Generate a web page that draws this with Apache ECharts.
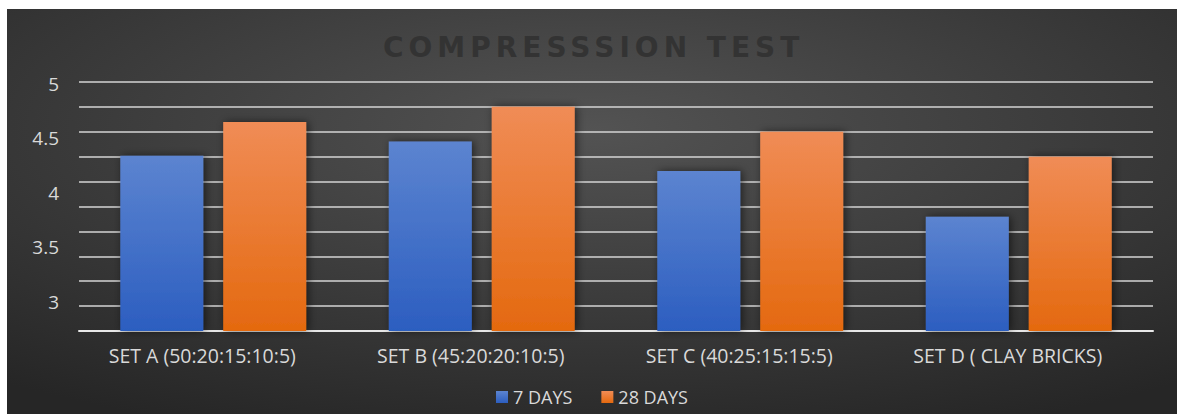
<!DOCTYPE html>
<html>
<head>
<meta charset="utf-8">
<script src="https://cdn.jsdelivr.net/npm/echarts@6/dist/echarts.min.js"></script>
<style>
  html, body { margin: 0; padding: 0; background: #fff; }
  #chart { position: absolute; left: 7px; top: 9px; width: 1170px; height: 405px; }
  /* wide tracking on the title, like the original */
  #chart text[fill="#333333"], #chart text[fill="#333"] { letter-spacing: 5px; }
</style>
</head>
<body>
<div id="chart"></div>
<script>
const categories = ['SET A (50:20:15:10:5)', 'SET B (45:20:20:10:5)', 'SET C (40:25:15:15:5)', 'SET D ( CLAY BRICKS)']
const days7 = [4.34, 4.47, 4.20, 3.78]
const days28 = [4.65, 4.79, 4.56, 4.33]
const yTicks = [3, 3.5, 4, 4.5, 5]

const font = 'Open Sans, Noto Sans, sans-serif'
const grad = (top, bottom) => new echarts.graphic.LinearGradient(0, 0, 0, 1, [
  { offset: 0, color: top }, { offset: 1, color: bottom }
])
const barShadow = { shadowColor: 'rgba(0,0,0,0.55)', shadowBlur: 8, shadowOffsetX: 2 }

const chart = echarts.init(document.getElementById('chart'), null, { renderer: 'svg' })
chart.setOption({
  backgroundColor: {
    type: 'radial', x: 0.5, y: 0.3, r: 0.8,
    colorStops: [{ offset: 0, color: '#535353' }, { offset: 1, color: '#262626' }]
  },
  textStyle: { fontFamily: font },
  title: {
    text: 'COMPRESSSION TEST', left: 371, top: 19,
    textStyle: { color: '#333333', fontSize: 28, fontWeight: 'bold', fontFamily: 'DejaVu Sans, sans-serif' }
  },
  grid: { left: 72, right: 24, top: 73, bottom: 83 },
  legend: {
    data: ['7 DAYS', '28 DAYS'], top: 374, left: 'center', itemWidth: 12, itemHeight: 12, itemGap: 29,
    icon: 'rect',
    textStyle: { color: '#d9d9d9', fontSize: 18, fontFamily: font }
  },
  xAxis: {
    type: 'category', data: categories,
    axisLine: { lineStyle: { color: '#e8e8e8', width: 2 } },
    axisTick: { show: false },
    axisLabel: { color: '#d9d9d9', fontSize: 19.5, margin: 14, fontFamily: font, padding: [0, 22, 0, 0] }
  },
  yAxis: [
    {
      // value scale, labelled as in the original
      type: 'value', min: 2.732, max: 5.016,
      axisLine: { show: false }, axisTick: { show: false },
      axisLabel: { color: '#d9d9d9', fontSize: 19, margin: 20, fontFamily: font, customValues: yTicks },
      splitLine: { show: false }
    },
    {
      // gridlines only
      type: 'value', position: 'left', min: 2.5, max: 5, interval: 0.25,
      axisLine: { show: false }, axisTick: { show: false }, axisLabel: { show: false },
      splitLine: { lineStyle: { color: '#d4d4d4', width: 1.5 } }
    }
  ],
  series: [
    {
      name: '7 DAYS', type: 'bar', data: days7, barWidth: 83, barGap: '24%', z: 3,
      itemStyle: Object.assign({ color: grad('#5c84d0', '#2c5ec0') }, barShadow)
    },
    {
      name: '28 DAYS', type: 'bar', data: days28, barWidth: 83, z: 3,
      itemStyle: Object.assign({ color: grad('#f08c56', '#e4690f') }, barShadow)
    }
  ]
})
</script>
</body>
</html>
